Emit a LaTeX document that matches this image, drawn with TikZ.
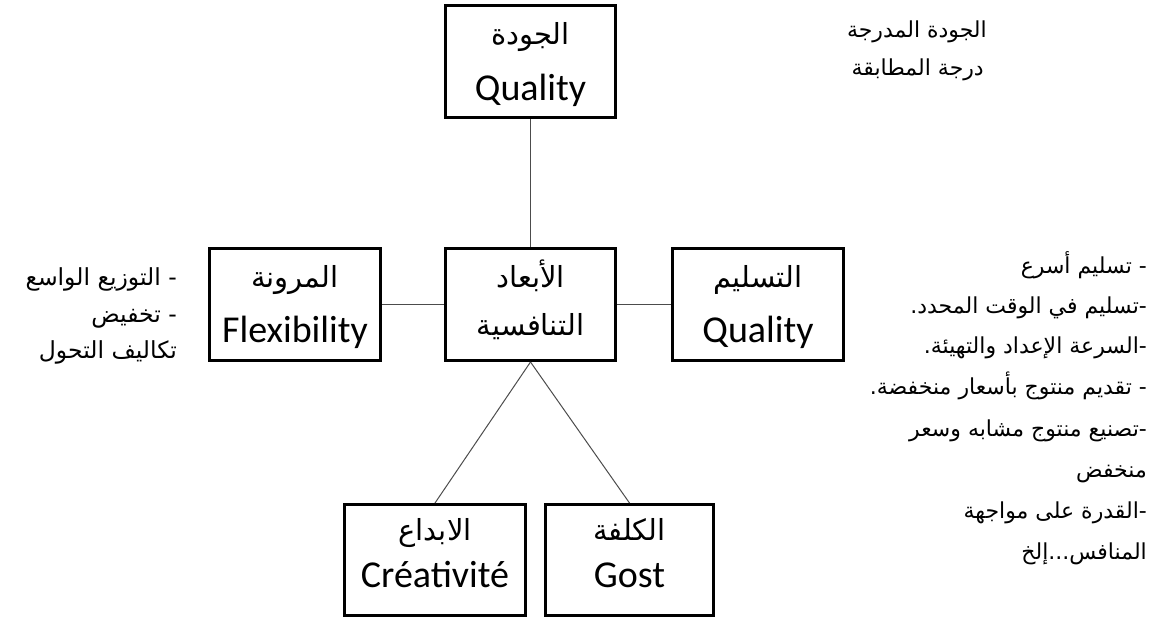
\documentclass[tikz,border=0pt]{standalone}
\usepackage{fontspec}
\TeXXeTstate=1
\newfontfamily\arabicfont[Script=Arabic]{DejaVu Sans}
\newfontfamily\latinfont{Carlito}
\begin{document}
\begin{tikzpicture}[x=1pt,y=-1pt,
  dimbox/.style={draw, line width=3pt, inner sep=0pt},
  link/.style={draw=black!70, line width=1pt},
  artxt/.style={font=\arabicfont\fontsize{29}{33}\selectfont, anchor=base, inner sep=0pt},
  entxt/.style={font=\latinfont\fontsize{38}{42}\selectfont, anchor=base, inner sep=0pt},
  note/.style={font=\arabicfont\fontsize{22}{26}\selectfont, anchor=base east, inner sep=0pt},
  leftnote/.style={note, font=\arabicfont\fontsize{23.5}{27}\selectfont}]
\useasboundingbox (0,0) rectangle (1159,618);

% the six dimension boxes
\node[dimbox, minimum width=170pt, minimum height=112pt] (qual) at (530.5,61.5) {};
\node[dimbox, minimum width=170pt, minimum height=112pt] (core) at (530.5,304.5) {};
\node[dimbox, minimum width=171pt, minimum height=112pt] (flex) at (295,304.5) {};
\node[dimbox, minimum width=171pt, minimum height=112pt] (deli) at (758,304.5) {};
\node[dimbox, minimum width=181pt, minimum height=111pt] (crea) at (435,560) {};
\node[dimbox, minimum width=168pt, minimum height=111pt] (cost) at (629.5,560) {};

% connectors
\draw[link] (qual.south) -- (core.north);
\draw[link] (flex.east) -- (core.west);
\draw[link] (core.east) -- (deli.west);
\draw[link] (core.south) -- (crea.north);
\draw[link] (core.south) -- (cost.north);

% box labels
\node[artxt] (qualAr) at (530.5,45) {\beginR الجودة\endR};
\node[entxt] (qualEn) at (530.5,100) {Quality};
\node[artxt] (coreA) at (530.5,287) {\beginR الأبعاد\endR};
\node[artxt] (coreB) at (530.5,335) {\beginR التنافسية\endR};
\node[artxt] (flexAr) at (295,287) {\beginR المرونة\endR};
\node[entxt] (flexEn) at (295,342) {Flexibility};
\node[artxt] (deliAr) at (758,287) {\beginR التسليم\endR};
\node[entxt] (deliEn) at (758,342) {Quality};
\node[artxt] (creaAr) at (435,540) {\beginR الابداع\endR};
\node[entxt] (creaEn) at (435,587) {Créativité};
\node[artxt] (costAr) at (629.5,540) {\beginR الكلفة\endR};
\node[entxt] (costEn) at (629.5,587) {Gost};

% notes beside the quality box
\node[note] (q1) at (987,38) {\beginR الجودة المدرجة\endR};
\node[note] (q2) at (984,75) {\beginR درجة المطابقة\endR};

% notes beside the flexibility box
\node[leftnote] (f1) at (177,285) {\beginR - التوزيع الواسع\endR};
\node[leftnote] (f2) at (177,322) {\beginR - تخفيض\endR};
\node[leftnote] (f3) at (177,358) {\beginR تكاليف التحول\endR};

% notes beside the delivery box
\node[note] (d1) at (1147,273) {\beginR - تسليم أسرع\endR};
\node[note] (d2) at (1147,313) {\beginR -تسليم في الوقت المحدد.\endR};
\node[note] (d3) at (1147,353) {\beginR -السرعة الإعداد والتهيئة.\endR};
\node[note] (d4) at (1147,394) {\beginR - تقديم منتوج بأسعار منخفضة.\endR};
\node[note] (d5) at (1147,436) {\beginR -تصنيع منتوج مشابه وسعر\endR};
\node[note] (d6) at (1147,477) {\beginR منخفض\endR};
\node[note] (d7) at (1147,518) {\beginR -القدرة على مواجهة\endR};
\node[note] (d8) at (1147,559) {\beginR المنافس...إلخ\endR};
\end{tikzpicture}
\end{document}
